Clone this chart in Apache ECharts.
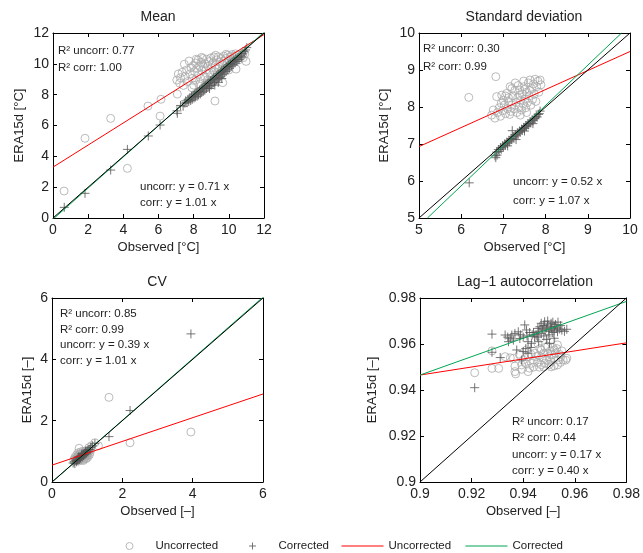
<!DOCTYPE html>
<html>
<head>
<meta charset="utf-8">
<script src="https://cdn.jsdelivr.net/npm/echarts@6/dist/echarts.min.js"></script>
<style>html,body{margin:0;padding:0;background:#fff}#c{width:643px;height:553px}</style>
</head>
<body>
<div id="c"></div>
<script>
// ---------- DATA ----------
var panelTitles = ['Mean', 'Standard deviation', 'CV', 'Lag\u22121 autocorrelation'];
var xNames = ['Observed [\u00B0C]', 'Observed [\u00B0C]', 'Observed [\u2013]', 'Observed [\u2013]'];
var yNames = ['ERA15d [\u00B0C]', 'ERA15d [\u00B0C]', 'ERA15d [\u2013]', 'ERA15d [\u2013]'];
var axisMin = [0, 5, 0, 0.9];
var axisMax = [12, 10, 6, 0.98];
var axisStep = [2, 1, 2, 0.02];
var annotTexts = [
  ['R\u00B2 uncorr: 0.77', 'R\u00B2 corr: 1.00', 'uncorr: y = 0.71 x', 'corr: y = 1.01 x'],
  ['R\u00B2 uncorr: 0.30', 'R\u00B2 corr: 0.99', 'uncorr: y = 0.52 x', 'corr: y = 1.07 x'],
  ['R\u00B2 uncorr: 0.85', 'R\u00B2 corr: 0.99', 'uncorr: y = 0.39 x', 'corr: y = 1.01 x'],
  ['R\u00B2 uncorr: 0.17', 'R\u00B2 corr: 0.44', 'uncorr: y = 0.17 x', 'corr: y = 0.40 x']
];
var legendNames = ['Uncorrected', 'Corrected', 'Uncorrected ', 'Corrected '];

var meanUncorr = [[0.63,1.75],[1.82,5.17],[3.28,6.46],[4.23,3.22],[5.40,7.26],[6.09,6.61],[6.14,7.70],[7.07,8.04],[9.21,7.59],[9.65,8.78],[10.41,9.66],[10.98,10.16],
[7.04,8.95],[7.13,9.34],[7.25,9.10],[7.35,9.45],[7.47,9.97],[7.52,9.20],[7.60,9.60],[7.66,8.85],[7.74,10.18],[7.80,9.35],[7.85,9.75],[7.92,9.05],[7.98,9.90],[8.05,9.50],[8.10,10.05],[8.12,8.95],[8.18,9.70],[8.25,10.25],[8.28,9.30],[8.33,9.85],[8.40,9.05],[8.42,10.10],[8.47,9.55],[8.52,10.35],[8.55,9.80],[8.60,9.20],[8.64,10.00],[8.70,9.60],[8.73,10.30],[8.78,8.95],[8.82,9.85],[8.88,10.15],[8.92,9.40],[8.97,10.38],[9.02,9.75],[9.05,9.15],[9.10,10.05],[9.15,10.45],[9.18,9.50],[9.24,9.90],[9.30,10.25],[9.34,9.30],[9.40,10.45],[9.42,9.70],[9.48,10.10],[9.55,10.35],[9.58,9.55],[9.63,9.95],[9.70,10.50],[9.72,10.20],[9.78,9.70],[9.84,10.35],[9.88,10.00],[9.93,10.55],[9.98,9.85],[10.03,10.25],[10.08,10.45],[10.12,10.05],[10.18,10.60],[10.22,10.30],[10.28,10.15],[10.33,10.50],[10.38,10.65],[10.45,10.35],[10.50,10.55],[10.56,10.25],[10.62,10.62],[10.68,10.45],[10.75,10.58],[10.82,10.40],[10.90,10.62],[8.35,8.70],[8.90,8.95],[9.50,9.25],[7.42,8.60],[8.00,8.62],[9.10,8.85],[10.00,9.60],[8.45,10.42],[8.15,10.30],[9.25,10.55],[9.85,10.62],[7.20,8.75],[7.90,8.45],[8.65,8.62]];

var meanCorr = [[0.64,0.69],[1.82,1.60],[3.28,3.11],[4.23,4.45],[5.42,5.32],[6.09,6.03],[7.07,6.79],[7.05,6.95],[7.25,7.30],[7.40,7.25],
[7.50,7.45],[7.55,7.60],[7.62,7.48],[7.68,7.70],[7.72,7.55],[7.78,7.80],[7.83,7.62],[7.88,7.90],[7.92,7.70],[7.97,7.98],[8.02,7.78],[8.06,8.05],[8.10,7.85],[8.15,8.12],[8.20,7.90],[8.24,8.20],[8.28,7.98],[8.33,8.30],[8.38,8.05],[8.42,8.38],[8.46,8.15],[8.51,8.45],[8.55,8.22],[8.60,8.55],[8.64,8.30],[8.69,8.62],[8.73,8.40],[8.78,8.72],[8.82,8.48],[8.87,8.80],[8.91,8.55],[8.96,8.90],[9.00,8.62],[9.05,8.98],[9.10,8.75],[9.14,9.08],[9.19,8.82],[9.23,9.15],[9.28,8.95],[9.32,9.25],[9.37,9.02],[9.42,9.35],[9.46,9.12],[9.51,9.45],[9.55,9.20],[9.60,9.55],[9.65,9.30],[9.70,9.62],[9.74,9.40],[9.79,9.72],[9.84,9.50],[9.89,9.82],[9.94,9.60],[9.99,9.92],[10.04,9.72],[10.09,10.02],[10.14,9.85],[10.19,10.12],[10.24,9.95],[10.29,10.22],[10.35,10.05],[10.40,10.32],[10.46,10.15],[10.52,10.42],[10.58,10.28],[10.65,10.52],[10.72,10.45],[10.80,10.65],[10.88,10.78],[10.95,10.90],[11.02,11.05],[9.20,8.62],[8.90,8.40],[9.60,9.05],[9.40,8.80]];

var sdUncorr = [[6.18,8.26],[6.82,8.82],
[6.72,7.78],[6.76,7.92],[6.80,7.70],[6.84,8.28],[6.86,7.85],[6.90,7.98],[6.93,7.75],[6.96,8.32],[6.98,7.90],[7.02,8.05],[7.05,7.82],[7.08,8.37],[7.10,7.95],[7.13,8.15],[7.16,8.55],[7.18,7.88],[7.20,8.05],[7.22,8.30],[7.25,7.95],[7.27,8.45],[7.30,8.12],[7.32,7.85],[7.34,8.25],[7.37,8.00],[7.39,8.46],[7.41,8.18],[7.43,7.92],[7.45,8.35],[7.47,8.08],[7.49,8.55],[7.51,8.22],[7.53,7.98],[7.55,8.40],[7.57,8.12],[7.59,8.65],[7.61,8.30],[7.63,8.73],[7.65,8.05],[7.67,8.50],[7.69,8.20],[7.71,8.62],[7.73,8.35],[7.75,8.75],[7.77,8.15],[7.79,8.55],[7.82,8.70],[7.84,8.40],[7.87,8.73],[7.89,8.60],[7.35,8.58],[7.28,8.65],[7.12,8.25],[7.00,8.18],[6.95,8.10],[7.40,7.78],[7.55,7.85],[7.20,8.50],[7.48,8.70],[7.62,8.45],[7.05,8.30],[7.15,7.80],[7.38,8.32],[7.52,8.48]];

var sdCorr = [[6.19,5.95],[6.82,6.63],[6.85,6.70],[6.80,6.68],[7.21,7.36],
[6.84,6.78],[6.88,6.85],[6.90,6.80],[6.93,6.90],[6.95,6.86],[6.98,6.95],[7.00,6.92],[7.03,7.00],[7.05,6.97],[7.08,7.05],[7.10,7.02],[7.13,7.10],[7.15,7.06],[7.18,7.15],[7.20,7.12],[7.23,7.20],[7.25,7.16],[7.28,7.25],[7.30,7.22],[7.33,7.30],[7.35,7.27],[7.38,7.35],[7.40,7.32],[7.43,7.40],[7.45,7.37],[7.48,7.45],[7.50,7.42],[7.53,7.50],[7.55,7.47],[7.58,7.55],[7.60,7.52],[7.63,7.60],[7.65,7.57],[7.68,7.65],[7.70,7.63],[7.73,7.70],[7.75,7.68],[7.78,7.75],[7.80,7.73],[7.83,7.80],[7.85,7.82],[7.87,7.89],[7.30,7.12],[7.10,6.95],[7.50,7.35],[7.70,7.55]];

var cvUncorr = [[0.77,1.10],[1.62,2.76],[2.22,1.28],[3.95,1.63],[1.22,1.28],[1.32,1.18],[1.12,1.18],[1.05,1.12],
[0.62,0.72],[0.65,0.80],[0.68,0.70],[0.70,0.88],[0.72,0.76],[0.74,0.95],[0.75,0.68],[0.77,0.82],[0.79,0.90],[0.80,0.74],[0.82,0.98],[0.83,0.85],[0.85,0.78],[0.86,0.92],[0.88,1.00],[0.89,0.70],[0.90,0.86],[0.92,0.95],[0.93,0.78],[0.95,0.90],[0.96,1.02],[0.98,0.84],[0.99,0.95],[1.01,0.80],[1.02,0.92],[1.04,1.00],[1.06,0.88],[1.08,0.96],[0.70,0.78],[0.76,0.88],[0.84,0.72],[0.87,0.82],[0.91,0.74],[0.97,0.76],[1.00,0.88],[0.80,0.92],[0.73,0.84],[0.94,0.84],[1.10,1.05],[0.66,0.75]];

var cvCorr = [[3.95,4.83],[2.22,2.33],[1.62,1.48],[1.22,1.25],[1.15,1.18],
[0.60,0.62],[0.63,0.66],[0.65,0.60],[0.68,0.70],[0.70,0.66],[0.72,0.75],[0.74,0.70],[0.76,0.79],[0.78,0.74],[0.80,0.83],[0.82,0.78],[0.84,0.86],[0.86,0.82],[0.88,0.90],[0.90,0.86],[0.92,0.94],[0.94,0.90],[0.96,0.98],[0.98,0.94],[1.00,1.02],[1.02,0.98],[1.05,1.06],[1.08,1.05],[1.10,1.12],[0.75,0.82],[0.85,0.92],[0.95,1.00],[0.70,0.72],[0.80,0.78],[0.90,0.92]];

var lagUncorr = [[0.9212,0.9475],[0.9279,0.9494],[0.9305,0.9494],[0.9368,0.9480],[0.9371,0.9470],[0.9394,0.9509],[0.9432,0.9516],[0.9451,0.9545],[0.9470,0.9574],[0.9495,0.9560],[0.9521,0.9574],[0.9546,0.9545],[0.9565,0.9530],[0.9483,0.9516],[0.9508,0.9523],[0.9533,0.9509],[0.9419,0.9480],[0.9279,0.9570],[0.9362,0.9538],[0.9368,0.9504],[0.9413,0.9574],[0.9457,0.9603],[0.9508,0.9617],[0.9533,0.9596],[0.9569,0.9538],[0.9508,0.9501],[0.9463,0.9499],
[0.9400,0.9530],[0.9420,0.9545],[0.9430,0.9555],[0.9440,0.9530],[0.9445,0.9560],[0.9455,0.9520],[0.9460,0.9550],[0.9465,0.9580],[0.9475,0.9540],[0.9480,0.9560],[0.9485,0.9585],[0.9490,0.9530],[0.9495,0.9590],[0.9500,0.9545],[0.9505,0.9570],[0.9510,0.9555],[0.9515,0.9585],[0.9520,0.9540],[0.9525,0.9560],[0.9530,0.9580],[0.9540,0.9555],[0.9545,0.9520],[0.9550,0.9570],[0.9555,0.9530],[0.9470,0.9510],[0.9440,0.9500],[0.9410,0.9515],[0.9385,0.9555],[0.9350,0.9540],[0.9330,0.9545],[0.9500,0.9510],[0.9535,0.9530],[0.9480,0.9500],[0.9520,0.9505],[0.9425,0.9495],[0.9395,0.9490]];

var lagCorr = [[0.9212,0.9410],[0.9279,0.9643],[0.9311,0.9541],[0.9279,0.9564],[0.9330,0.9639],[0.9356,0.9639],[0.9368,0.9646],[0.9381,0.9653],[0.9406,0.9683],[0.9413,0.9661],[0.9419,0.9610],[0.9375,0.9574],[0.9400,0.9567],[0.9419,0.9560],[0.9394,0.9530],[0.9432,0.9603],[0.9444,0.9632],[0.9457,0.9668],[0.9470,0.9690],[0.9483,0.9697],[0.9495,0.9683],[0.9508,0.9690],[0.9521,0.9675],[0.9502,0.9603],[0.9533,0.9653],[0.9569,0.9664],[0.9343,0.9610],[0.9362,0.9617],[0.9387,0.9624],
[0.9440,0.9650],[0.9450,0.9640],[0.9460,0.9655],[0.9465,0.9675],[0.9475,0.9665],[0.9480,0.9680],[0.9485,0.9660],[0.9490,0.9670],[0.9495,0.9700],[0.9500,0.9655],[0.9505,0.9675],[0.9510,0.9665],[0.9515,0.9695],[0.9520,0.9660],[0.9525,0.9685],[0.9530,0.9670],[0.9540,0.9665],[0.9545,0.9680],[0.9550,0.9660],[0.9470,0.9645],[0.9455,0.9630],[0.9435,0.9640],[0.9425,0.9650],[0.9415,0.9635],[0.9400,0.9630],[0.9390,0.9640],[0.9350,0.9625],[0.9340,0.9630],[0.9480,0.9635],[0.9500,0.9640],[0.9515,0.9650],[0.9490,0.9620],[0.9460,0.9610],[0.9410,0.9580],[0.9430,0.9585],[0.9520,0.9625],[0.9560,0.9655],[0.9535,0.9695]];

// fitted lines (end points)
var fitUncorr = [
  [[0,3.3],[12,11.9]],
  [[5,6.93],[10,9.5]],
  [[0,0.55],[6,2.87]],
  [[0.9,0.9465],[0.98,0.9605]]
];
var fitCorr = [
  [[0,-0.08],[12,12.05]],
  [[5.2,5],[9.8,10]],
  [[0,0],[6,6.03]],
  [[0.9,0.9465],[0.98,0.9785]]
];
var oneToOne = [
  [[0,0],[12,12]],
  [[5,5],[10,10]],
  [[0,0],[6,6]],
  [[0.9,0.9],[0.98,0.98]]
];
var scatterUncorr = [meanUncorr, sdUncorr, cvUncorr, lagUncorr];
var scatterCorr = [meanCorr, sdCorr, cvCorr, lagCorr];

// ---------- LAYOUT / STYLE ----------
var FONT = '"Liberation Sans", Arial, Helvetica, sans-serif';
var grids = [
  {left: 53, top: 33, width: 211, height: 185},
  {left: 419, top: 33, width: 211, height: 185},
  {left: 52, top: 298, width: 211, height: 184},
  {left: 420, top: 298, width: 210, height: 184}
];
var yNameGap = [27, 28, 18, 41];
var titlePos = [[158, 17], [524, 17], [157, 282], [525, 282]];
var annotPos = [
  [[58, 51], [58, 68], [140, 187], [140, 203]],
  [[423, 49], [423, 67], [513, 182], [513, 201]],
  [[60, 314], [60, 330], [60, 345], [60, 361]],
  [[512, 422], [512, 438], [512, 455], [512, 471]]
];
var legendLeft = [125.5, 248.5, 341, 465];
var CIRC = '#aaaaaa', PLUS = '#555555', RED = '#ff0000', GREEN = '#00a651';
var plusPath = 'path://M5,0V10M0,5H10';

var xAxes = [], yAxes = [], series = [], graphics = [];
var lineBase = {show: true, onZero: false, lineStyle: {color: '#000', width: 1}};
var tickBase = {show: true, inside: true, length: 4, lineStyle: {color: '#000', width: 1}};

for (var i = 0; i < 4; i++) {
  xAxes.push({
    gridIndex: i, type: 'value', min: axisMin[i], max: axisMax[i], interval: axisStep[i],
    position: 'bottom', name: xNames[i], nameLocation: 'middle', nameGap: 23,
    nameTextStyle: {fontSize: 13, color: '#222', fontFamily: FONT},
    axisLine: lineBase, axisTick: tickBase,
    axisLabel: {fontSize: 14, color: '#222', margin: 5, fontFamily: FONT},
    splitLine: {show: false}
  });
  xAxes.push({
    gridIndex: i, type: 'value', min: axisMin[i], max: axisMax[i], interval: axisStep[i],
    position: 'top', axisLine: lineBase, axisTick: tickBase,
    axisLabel: {show: false}, splitLine: {show: false}
  });
  yAxes.push({
    gridIndex: i, type: 'value', min: axisMin[i], max: axisMax[i], interval: axisStep[i],
    position: 'left', name: yNames[i], nameLocation: 'middle', nameGap: yNameGap[i],
    nameTextStyle: {fontSize: 13, color: '#222', fontFamily: FONT},
    axisLine: lineBase, axisTick: tickBase,
    axisLabel: {fontSize: 14, color: '#222', margin: 4, fontFamily: FONT},
    splitLine: {show: false}
  });
  yAxes.push({
    gridIndex: i, type: 'value', min: axisMin[i], max: axisMax[i], interval: axisStep[i],
    position: 'right', axisLine: lineBase, axisTick: tickBase,
    axisLabel: {show: false}, splitLine: {show: false}
  });

  var xi = 2 * i, yi = 2 * i;
  series.push({
    name: legendNames[0], type: 'scatter', xAxisIndex: xi, yAxisIndex: yi,
    data: scatterUncorr[i], symbol: 'circle', symbolSize: 8,
    itemStyle: {color: 'transparent', borderColor: CIRC, borderWidth: 1},
    emphasis: {disabled: true}, silent: true
  });
  series.push({
    name: legendNames[1], type: 'scatter', xAxisIndex: xi, yAxisIndex: yi,
    data: scatterCorr[i], symbol: plusPath, symbolSize: 9,
    itemStyle: {color: 'transparent', borderColor: PLUS, borderWidth: 1},
    emphasis: {disabled: true}, silent: true
  });
  series.push({
    name: legendNames[2], type: 'line', xAxisIndex: xi, yAxisIndex: yi,
    data: fitUncorr[i], symbol: 'none', lineStyle: {color: RED, width: 1},
    itemStyle: {color: RED}, silent: true, animation: false
  });
  series.push({
    name: legendNames[3], type: 'line', xAxisIndex: xi, yAxisIndex: yi,
    data: fitCorr[i], symbol: 'none', lineStyle: {color: GREEN, width: 1},
    itemStyle: {color: GREEN}, silent: true, animation: false
  });
  series.push({
    name: '1:1', type: 'line', xAxisIndex: xi, yAxisIndex: yi,
    data: oneToOne[i], symbol: 'none', lineStyle: {color: '#000', width: 1},
    itemStyle: {color: '#000'}, silent: true, animation: false
  });

  graphics.push({
    type: 'text', x: titlePos[i][0], y: titlePos[i][1], silent: true,
    style: {text: panelTitles[i], fill: '#222', fontSize: 14, fontFamily: FONT,
            align: 'center', verticalAlign: 'middle'}
  });
  for (var k = 0; k < 4; k++) {
    graphics.push({
      type: 'text', x: annotPos[i][k][0], y: annotPos[i][k][1], silent: true,
      style: {text: annotTexts[i][k], fill: '#222', fontSize: 11.5, fontFamily: FONT,
              align: 'left', verticalAlign: 'middle'}
    });
  }
}

var legendItems = [
  {name: legendNames[0], icon: 'circle', itemStyle: {color: 'transparent', borderColor: CIRC, borderWidth: 1}},
  {name: legendNames[1], icon: plusPath, itemStyle: {color: 'transparent', borderColor: PLUS, borderWidth: 1}},
  {name: legendNames[2], itemStyle: {opacity: 0}, lineStyle: {color: RED, width: 1}},
  {name: legendNames[3], itemStyle: {opacity: 0}, lineStyle: {color: GREEN, width: 1}}
];
var legends = legendItems.map(function (it, j) {
  return {
    left: legendLeft[j], top: 540, padding: 0, orient: 'horizontal',
    itemWidth: 42, itemHeight: 7, selectedMode: false,
    textStyle: {fontSize: 11.5, color: '#222', fontFamily: FONT},
    formatter: function (n) { return n.trim(); },
    data: [it]
  };
});

var option = {
  animation: false,
  backgroundColor: '#fff',
  textStyle: {fontFamily: FONT},
  grid: grids,
  xAxis: xAxes,
  yAxis: yAxes,
  legend: legends,
  graphic: graphics,
  series: series
};

var chart = echarts.init(document.getElementById('c'), null, {renderer: 'canvas'});
chart.setOption(option);
</script>
</body>
</html>
